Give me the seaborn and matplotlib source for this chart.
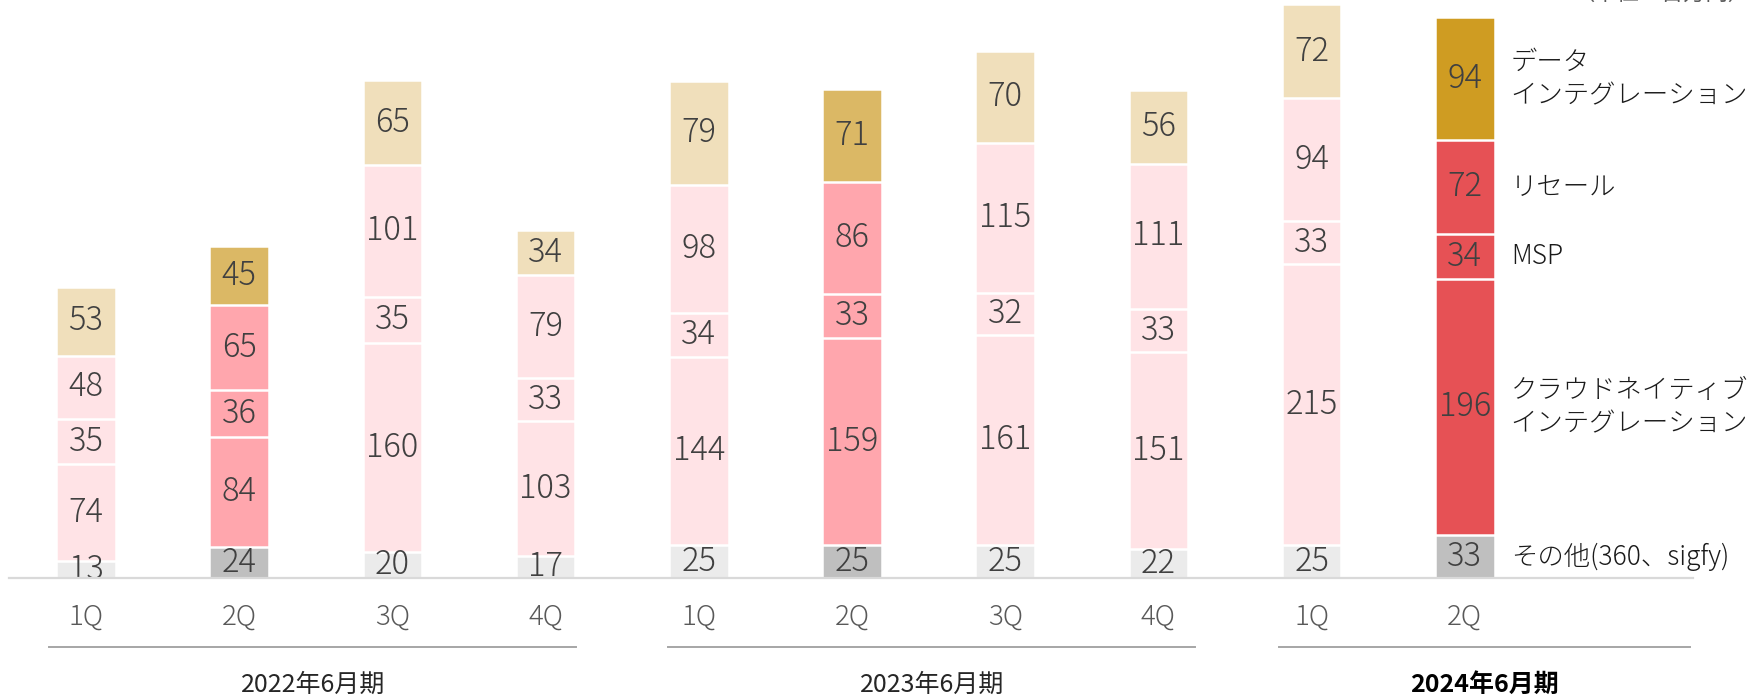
import pandas as pd
import matplotlib
matplotlib.use("Agg")
import matplotlib.pyplot as plt
import numpy as np
import seaborn as sb

# values (units: million yen), bottom segment first
quarters = ["1Q", "2Q", "3Q", "4Q", "1Q", "2Q", "3Q", "4Q", "1Q", "2Q"]
periods = ["2022年6月期"] * 4 + ["2023年6月期"] * 4 + ["2024年6月期"] * 2
other = [13, 24, 20, 17, 25, 25, 25, 22, 25, 33]
cloud = [74, 84, 160, 103, 144, 159, 161, 151, 215, 196]
msp = [35, 36, 35, 33, 34, 33, 32, 33, 33, 34]
resale = [48, 65, 101, 79, 98, 86, 115, 111, 94, 72]
data_int = [53, 45, 65, 34, 79, 71, 70, 56, 72, 94]

segment_names = ["その他(360、sigfy)", "クラウドネイティブ\nインテグレーション", "MSP", "リセール",
                 "データ\nインテグレーション"]
period_names = ["2022年6月期", "2023年6月期", "2024年6月期"]

# which bars are highlighted: n = normal, h = 2Q highlight, c = current quarter
bar_style = ["n", "h", "n", "n", "n", "h", "n", "n", "n", "c"]
grey = {"n": "#EBEBEB", "h": "#BFBFBF", "c": "#BFBFBF"}
pink = {"n": "#FFE3E6", "h": "#FFA6AD", "c": "#E65155"}
gold = {"n": "#F0DFBB", "h": "#DBB865", "c": "#CF9C22"}
layer_colors = [grey, pink, pink, pink, gold]

plt.rcParams["font.family"] = ["Noto Sans CJK JP", "DejaVu Sans"]

layers = np.array([other, cloud, msp, resale, data_int])
tops = layers.cumsum(axis=0)
bottoms = tops - layers
bar_ids = [f"{p}-{q}" for p, q in zip(periods, quarters)]

fig = plt.figure(figsize=(17.64, 6.97), dpi=100)
ax = fig.add_axes([0, 119 / 697, 1, 578 / 697])

# stacked bars: draw cumulative totals from the top layer down
for k in range(len(layers) - 1, -1, -1):
    df = pd.DataFrame({"bar": bar_ids, "value": tops[k]})
    pal = {b: layer_colors[k][s] for b, s in zip(bar_ids, bar_style)}
    sb.barplot(data=df, x="bar", y="value", hue="bar", palette=pal, legend=False,
               width=0.39, edgecolor="white", linewidth=1.8, saturation=1, ax=ax)

# value labels in the middle of each segment
for k in range(len(layers)):
    for i in range(len(bar_ids)):
        ax.text(i, bottoms[k][i] + layers[k][i] / 2, str(layers[k][i]), ha="center", va="center",
                fontsize=23.5, color="#404040", fontweight="light")

# segment names next to the last bar
last = len(bar_ids) - 1
for k in range(len(layers)):
    ax.text(last + 0.30, bottoms[k][last] + layers[k][last] / 2, segment_names[k], ha="left",
            va="center", fontsize=19, color="#1a1a1a", linespacing=1.25, fontweight="light")

spacing = 153.2
ax.set_xlim(-86 / spacing, (1764 - 86) / spacing)
ax.set_ylim(0, 578 / 1.307)
for s in ax.spines.values():
    s.set_visible(False)
ax.set_yticks([])
ax.set_xticks(range(len(quarters)), quarters)
ax.tick_params(axis="x", length=0, pad=18, labelsize=20, labelcolor="#595959")
for t in ax.get_xticklabels():
    t.set_fontweight("light")
ax.set_xlabel("")
ax.set_ylabel("")

# baseline
ax.plot([(9 - 86) / spacing, (1693 - 86) / spacing], [0, 0], color="#D9D9D9", lw=1.6,
        clip_on=False, zorder=5)

# fiscal-year brackets and labels
group_spans = [(-0.24, 3.20), (3.80, 7.24), (7.79, 10.47)]
for (a, b), name in zip(group_spans, period_names):
    ax.plot([a, b], [-52.8, -52.8], color="#A6A6A6", lw=1.4, clip_on=False)
    bold = name == "2024年6月期"
    ax.text((a + b) / 2, -81.8, name, ha="center", va="center", fontsize=18,
            color="#000000" if bold else "#262626", fontweight="bold" if bold else "normal")

fig.text(1750 / 1764, 1 - 5 / 697, "（単位：百万円）", ha="right", va="bottom", fontsize=16,
         color="#595959")

plt.savefig("out.png", dpi=100)
print("Saved image!")
